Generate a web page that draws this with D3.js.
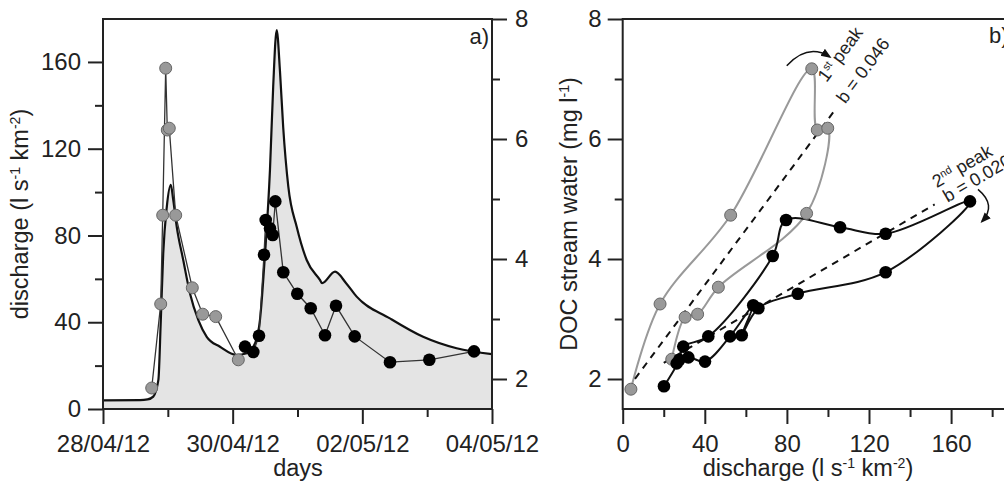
<!DOCTYPE html>
<html>
<head>
<meta charset="utf-8">
<script src="https://cdn.jsdelivr.net/npm/d3@7"></script>
<style>
  body { margin: 0; background: #fff; }
  svg { display: block; font-family: "Liberation Sans", Arial, sans-serif; }
</style>
</head>
<body>
<svg id="chart" width="1004" height="484"></svg>
<script>
// ---- panel a) : hydrograph, hours after 28/04/12 00:00
const flowHours  = [0, 13.7, 16.5, 18.6, 20.5, 21.4, 22.3, 23.6, 25.1, 26.0, 27.3, 29.7, 32.2, 35.3, 38.4, 43.3, 49.5, 53.2, 56.3, 58.1, 60.0, 61.8, 63.0, 64.3, 65.5, 66.7, 68.6, 71.7, 75.4, 80.3, 81.1, 85.9, 90.0, 93.9, 106.2, 118.5, 130.9, 144];
const flowValues = [4, 4.1, 4.4, 5.7, 13.4, 41, 71.8, 93, 103.3, 96.4, 84, 68.7, 53.3, 41, 33.3, 28.7, 24.9, 25.7, 30.3, 41, 71.8, 110, 148.6, 174.7, 156, 130, 102.5, 84, 68.7, 59.5, 58, 63.3, 58, 51.8, 41.8, 33.3, 28, 25.3];

// DOC samples, 1st peak (grey) and 2nd peak (black)
const doc1Hours  = [18.03, 21.36, 22.10, 23.21, 23.80, 24.54, 26.91, 33.06, 36.91, 41.72, 50.09];
const doc1Values = [1.85, 3.25, 4.73, 7.18, 6.15, 6.18, 4.73, 3.52, 3.08, 3.04, 2.32];
const doc2Hours  = [52.57, 55.64, 57.75, 59.6, 60.23, 61.82, 62.82, 63.78, 66.74, 71.92, 76.89, 82.18, 86.25, 93.18, 106.24, 120.79, 137.34];
const doc2Values = [2.54, 2.45, 2.72, 4.07, 4.65, 4.51, 4.40, 4.96, 3.78, 3.42, 3.18, 2.73, 3.22, 2.71, 2.28, 2.32, 2.46];

// ---- panel b) : hysteresis loops (discharge vs DOC)
const loop1Q   = [4, 18.2, 52.6, 92.1, 94.8, 99.9, 89.6, 46.6, 36.5, 30.4, 23.9];
const loop1Doc = [1.83, 3.25, 4.73, 7.17, 6.15, 6.18, 4.76, 3.53, 3.08, 3.03, 2.33];
const loop2Q   = [20.1, 27.6, 29.5, 41.7, 73.1, 79.6, 105.9, 128.1, 169.2, 128.1, 85.3, 66.1, 58, 63.6, 52.3, 40.1, 32, 26.3];
const loop2Doc = [1.88, 2.32, 2.54, 2.71, 4.05, 4.65, 4.53, 4.42, 4.96, 3.78, 3.42, 3.18, 2.73, 3.23, 2.71, 2.29, 2.36, 2.26];

// regression lines  DOC = a + b*Q
const fitSlope = [0.046, 0.020];
const fitIntercept = [1.727, 1.87];
const fitQFrom = [6, 20];
const fitQTo = [103, 152];
const fitNames = [["1", "st", " peak"], ["2", "nd", " peak"]];

// axis ticks
const qMajor = [0, 40, 80, 120, 160], qMinor = [20, 60, 100, 140, 180];
const flowMajor = [0, 40, 80, 120, 160], flowMinor = [20, 60, 100, 140];
const docMajor = [2, 4, 6, 8], docMinor = [3, 5, 7];
const dayMajor = ["2012-04-28", "2012-04-30", "2012-05-02", "2012-05-04"];
const dayMinor = ["2012-04-29", "2012-05-01", "2012-05-03"];

const svg = d3.select("#chart");
const t0 = new Date(2012, 3, 28);
const hourDate = h => new Date(+t0 + h * 36e5);
const parseDay = d3.timeParse("%Y-%m-%d");
const ink = "#222";

const yTop = 19, yBot = 409;
const xDay = d3.scaleTime().domain([t0, new Date(2012, 4, 4)]).range([103, 492]);
const yFlow = d3.scaleLinear().domain([0, 179.8]).range([yBot, yTop]);
const yDocA = d3.scaleLinear().domain([1.5, 8]).range([yBot, yTop]);
const xQ = d3.scaleLinear().domain([0, 200]).range([622.7, 1033.2]);
const yDoc = d3.scaleLinear().domain([1.5, 8]).range([yBot, yTop]);

function drawAxis(g, make, scale, major, minor, fmt, pad) {
  g.append("g").call(make(scale).tickValues(minor).tickSize(8).tickFormat(""));
  g.append("g").call(make(scale).tickValues(major).tickSize(15).tickPadding(pad).tickFormat(fmt));
  g.selectAll(".domain").remove();
  g.selectAll(".tick line").attr("stroke", ink).attr("stroke-width", 2);
  g.selectAll(".tick text").attr("font-size", 24).attr("fill", ink)
    .attr("font-family", "Liberation Sans, Arial, sans-serif");
}

function supText(sel, parts) {
  parts.forEach(p => {
    const t = sel.append("tspan").text(p[0]);
    if (p[1]) t.attr("font-size", "0.6em").attr("baseline-shift", "super");
  });
}

// ================= panel a =================
const area = d3.area()
  .x((d, i) => xDay(hourDate(flowHours[i])))
  .y0(yBot)
  .y1(d => yFlow(d))
  .curve(d3.curveMonotoneX);
const flowLine = d3.line()
  .x((d, i) => xDay(hourDate(flowHours[i])))
  .y(d => yFlow(d))
  .curve(d3.curveMonotoneX);

svg.append("path").attr("d", area(flowValues)).attr("fill", "#e4e4e4");
svg.append("path").attr("d", flowLine(flowValues))
  .attr("fill", "none").attr("stroke", "#111").attr("stroke-width", 2.2);

const docLine = hours => d3.line()
  .x((d, i) => xDay(hourDate(hours[i])))
  .y(d => yDocA(d));

svg.append("path").attr("d", docLine(doc1Hours)(doc1Values))
  .attr("fill", "none").attr("stroke", "#333").attr("stroke-width", 1.3);
svg.selectAll("circle.g1").data(doc1Values).join("circle").attr("class", "g1")
  .attr("cx", (d, i) => xDay(hourDate(doc1Hours[i]))).attr("cy", d => yDocA(d))
  .attr("r", 6).attr("fill", "#999").attr("stroke", "#666").attr("stroke-width", 1);

svg.append("path").attr("d", docLine(doc2Hours)(doc2Values))
  .attr("fill", "none").attr("stroke", "#333").attr("stroke-width", 1.3);
svg.selectAll("circle.g2").data(doc2Values).join("circle").attr("class", "g2")
  .attr("cx", (d, i) => xDay(hourDate(doc2Hours[i]))).attr("cy", d => yDocA(d))
  .attr("r", 6.3).attr("fill", "#000");

// frame + axes
svg.append("path").attr("d", `M103,${yBot}V${yTop}H492V${yBot}H103Z`)
  .attr("fill", "none").attr("stroke", ink).attr("stroke-width", 2);

drawAxis(svg.append("g").attr("transform", `translate(0,${yBot})`),
  d3.axisBottom, xDay, dayMajor.map(parseDay), dayMinor.map(parseDay), d3.timeFormat("%d/%m/%y"), 11);
drawAxis(svg.append("g").attr("transform", "translate(103,0)"),
  d3.axisLeft, yFlow, flowMajor, flowMinor, d3.format("d"), 7);
drawAxis(svg.append("g").attr("transform", "translate(492,0)"),
  d3.axisRight, yDocA, docMajor, docMinor, d3.format("d"), 8);

svg.append("text").attr("x", 489).attr("y", 44).attr("text-anchor", "end")
  .attr("font-size", 22).attr("fill", ink).text("a)");

supText(svg.append("text").attr("transform", "translate(28,214) rotate(-90)")
  .attr("text-anchor", "middle").attr("font-size", 23.5).attr("fill", ink),
  [["discharge (l s"], ["-1", 1], [" km"], ["-2", 1], [")"]]);
svg.append("text").attr("x", 298).attr("y", 476).attr("text-anchor", "middle")
  .attr("font-size", 23.5).attr("fill", ink).text("days");

// ================= panel b =================
const loopLine = qs => d3.line()
  .x((d, i) => xQ(qs[i]))
  .y(d => yDoc(d))
  .curve(d3.curveCatmullRom.alpha(0.5));

svg.append("path").attr("d", loopLine(loop1Q)(loop1Doc))
  .attr("fill", "none").attr("stroke", "#999").attr("stroke-width", 2);

// regression lines
fitSlope.forEach((b, k) => {
  const q0 = fitQFrom[k], q1 = fitQTo[k];
  svg.append("line")
    .attr("x1", xQ(q0)).attr("y1", yDoc(fitIntercept[k] + b * q0))
    .attr("x2", xQ(q1)).attr("y2", yDoc(fitIntercept[k] + b * q1))
    .attr("stroke", "#111").attr("stroke-width", 2).attr("stroke-dasharray", "7,6");
});

svg.append("path").attr("d", loopLine(loop2Q)(loop2Doc))
  .attr("fill", "none").attr("stroke", "#111").attr("stroke-width", 2);

svg.selectAll("circle.l1").data(loop1Doc).join("circle").attr("class", "l1")
  .attr("cx", (d, i) => xQ(loop1Q[i])).attr("cy", d => yDoc(d))
  .attr("r", 6).attr("fill", "#999").attr("stroke", "#666").attr("stroke-width", 1);
svg.selectAll("circle.l2").data(loop2Doc).join("circle").attr("class", "l2")
  .attr("cx", (d, i) => xQ(loop2Q[i])).attr("cy", d => yDoc(d))
  .attr("r", 6.3).attr("fill", "#000");

// slope labels along the regression lines (offsets in the rotated frame)
const nameShift = [[18, -23], [10, -13]];
fitSlope.forEach((b, k) => {
  const q1 = fitQTo[k];
  const x1 = xQ(q1), y1 = yDoc(fitIntercept[k] + b * q1);
  const x0 = xQ(fitQFrom[k]), y0 = yDoc(fitIntercept[k] + b * fitQFrom[k]);
  const ang = Math.atan2(y1 - y0, x1 - x0) * 180 / Math.PI;
  const g = svg.append("g").attr("transform", `translate(${x1},${y1}) rotate(${ang})`)
    .attr("font-size", 18).attr("fill", ink);
  g.append("text").attr("x", 12).attr("y", 5).text("b = " + b.toFixed(3));
  const n = fitNames[k];
  supText(g.append("text").attr("x", nameShift[k][0]).attr("y", nameShift[k][1]),
    [[n[0]], [n[1], 1], [n[2]]]);
});

// curved arrows indicating loop direction
svg.append("defs").append("marker").attr("id", "head")
  .attr("viewBox", "0 0 10 10").attr("refX", 8).attr("refY", 5)
  .attr("markerWidth", 7).attr("markerHeight", 7).attr("orient", "auto")
  .append("path").attr("d", "M0,1L10,5L0,9Z").attr("fill", "#111");

const pk1 = [xQ(loop1Q[3]), yDoc(loop1Doc[3])];
const pk2 = [xQ(loop2Q[8]), yDoc(loop2Doc[8])];
svg.append("path")
  .attr("d", `M${pk1[0] - 25},${pk1[1] - 3}Q${pk1[0] - 4},${pk1[1] - 26} ${pk1[0] + 18},${pk1[1] - 12}`)
  .attr("fill", "none").attr("stroke", "#111").attr("stroke-width", 1.5).attr("marker-end", "url(#head)");
svg.append("path")
  .attr("d", `M${pk2[0] + 8},${pk2[1] - 12}Q${pk2[0] + 27},${pk2[1] + 4} ${pk2[0] + 12},${pk2[1] + 20}`)
  .attr("fill", "none").attr("stroke", "#111").attr("stroke-width", 1.5).attr("marker-end", "url(#head)");

// frame + axes
svg.append("path").attr("d", `M1040,${yTop}H622.7V${yBot}H1040`)
  .attr("fill", "none").attr("stroke", ink).attr("stroke-width", 2);
drawAxis(svg.append("g").attr("transform", `translate(0,${yBot})`),
  d3.axisBottom, xQ, qMajor, qMinor, d3.format("d"), 11);
drawAxis(svg.append("g").attr("transform", "translate(622.7,0)"),
  d3.axisLeft, yDoc, docMajor, docMinor, d3.format("d"), 6);

svg.append("text").attr("x", 989).attr("y", 43)
  .attr("font-size", 22).attr("fill", ink).text("b)");

supText(svg.append("text").attr("transform", "translate(577,214) rotate(-90)")
  .attr("text-anchor", "middle").attr("font-size", 23.5).attr("fill", ink),
  [["DOC stream water (mg l"], ["-1", 1], [")"]]);
supText(svg.append("text").attr("x", 808).attr("y", 476).attr("text-anchor", "middle")
  .attr("font-size", 23.5).attr("fill", ink),
  [["discharge (l s"], ["-1", 1], [" km"], ["-2", 1], [")"]]);
</script>
</body>
</html>
